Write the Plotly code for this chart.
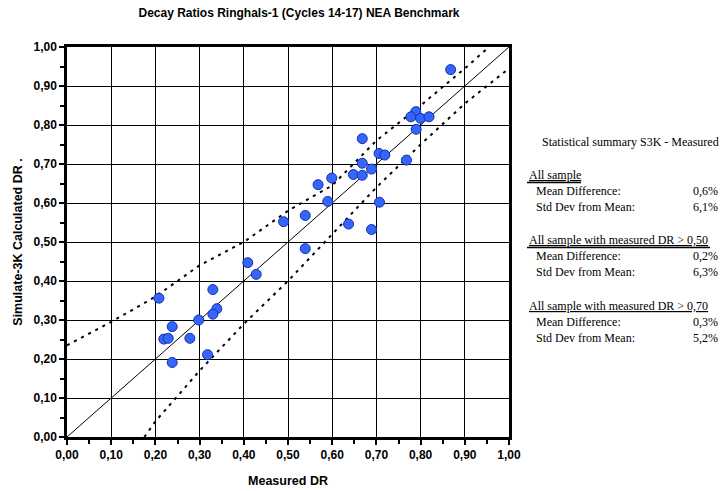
import plotly.graph_objects as go

# Measured vs calculated decay ratios
measured = [0.868, 0.789, 0.778, 0.800, 0.819, 0.790, 0.668, 0.706, 0.719, 0.768,
            0.668, 0.689, 0.648, 0.668, 0.599, 0.568, 0.590, 0.707, 0.539, 0.490,
            0.637, 0.689, 0.539, 0.409, 0.428, 0.208, 0.330, 0.339, 0.330, 0.298,
            0.238, 0.219, 0.229, 0.278, 0.318, 0.238]
calculated = [0.942, 0.834, 0.821, 0.817, 0.821, 0.789, 0.765, 0.727, 0.723, 0.710,
              0.702, 0.687, 0.673, 0.671, 0.664, 0.647, 0.604, 0.602, 0.568, 0.552,
              0.546, 0.532, 0.483, 0.447, 0.417, 0.356, 0.378, 0.329, 0.315, 0.300,
              0.283, 0.251, 0.253, 0.253, 0.211, 0.191]

# identity line
diag_x = [0.0, 1.0]
diag_y = [0.0, 1.0]

# dashed bands
upper_x = [0.0, 0.1, 0.2, 0.3, 0.4, 0.5, 0.6, 0.7, 0.8, 0.9, 0.955]
upper_y = [0.235, 0.295, 0.36, 0.44, 0.50, 0.58, 0.645, 0.76, 0.85, 0.945, 1.0]
lower_x = [0.175, 0.2, 0.3, 0.4, 0.5, 0.6, 0.7, 0.8, 0.9, 1.0]
lower_y = [0.0, 0.04, 0.17, 0.29, 0.40, 0.52, 0.64, 0.75, 0.855, 0.945]

title = "Decay Ratios Ringhals-1 (Cycles 14-17) NEA Benchmark"
x_title = "Measured DR"
y_title = "Simulate-3K Calculated DR ."

summary_title = "Statistical summary S3K - Measured"
group_headers = ["All sample",
                 "All sample with measured DR > 0,50",
                 "All sample with measured DR > 0,70"]
mean_diff = ["0,6%", "0,2%", "0,3%"]
std_dev = ["6,1%", "6,3%", "5,2%"]

W, H = 723, 491
ML, MR, MT, MB = 67, 214, 47, 54
PW, PH = W - ML - MR, H - MT - MB


def px(x):
    return (x - ML) / PW


def py(y):
    return (H - MB - y) / PH


fig = go.Figure()
fig.add_trace(go.Scatter(x=upper_x, y=upper_y, mode="lines",
                         line=dict(color="black", width=2, dash="3px,5px"),
                         hoverinfo="skip", showlegend=False))
fig.add_trace(go.Scatter(x=lower_x, y=lower_y, mode="lines",
                         line=dict(color="black", width=2, dash="3px,5px"),
                         hoverinfo="skip", showlegend=False))
fig.add_trace(go.Scatter(x=diag_x, y=diag_y, mode="lines",
                         line=dict(color="black", width=1),
                         hoverinfo="skip", showlegend=False))
fig.add_trace(go.Scatter(x=measured, y=calculated, mode="markers",
                         marker=dict(size=10, color="#3366FF",
                                     line=dict(color="#1a2fa0", width=1)),
                         showlegend=False))

serif = "Liberation Serif, Times New Roman, serif"
sans = "Liberation Sans, Arial, sans-serif"
fs = 12

ann = []
shapes = []
ann.append(dict(text=summary_title, x=px(540), y=py(142), xanchor="left"))
header_y = [175, 240, 306]
header_right = [581, 710, None]
for i, hy in enumerate(header_y):
    ann.append(dict(text="<u>" + group_headers[i] + "</u>", x=px(527), y=py(hy), xanchor="left"))
    ann.append(dict(text="Mean Difference:", x=px(534), y=py(hy + 16), xanchor="left"))
    ann.append(dict(text=mean_diff[i], x=px(720), y=py(hy + 16), xanchor="right"))
    ann.append(dict(text="Std Dev from Mean:", x=px(534), y=py(hy + 32), xanchor="left"))
    ann.append(dict(text=std_dev[i], x=px(720), y=py(hy + 32), xanchor="right"))
    if header_right[i] is not None:
        shapes.append(dict(type="line", xref="paper", yref="paper",
                           x0=px(527), x1=px(header_right[i]),
                           y0=py(hy + 7.5), y1=py(hy + 7.5),
                           line=dict(color="black", width=1.5)))
for a in ann:
    a.update(xref="paper", yref="paper", yanchor="middle", showarrow=False,
             font=dict(family=serif, size=fs, color="black"))

axis_common = dict(range=[0, 1], dtick=0.1, tickformat=".2f", automargin=False,
                   showgrid=True, gridcolor="black", gridwidth=1,
                   showline=True, linecolor="black", linewidth=2.5, mirror=True,
                   ticks="outside", ticklen=5, tickwidth=2, tickcolor="black",
                   minor=dict(dtick=0.05, ticks="outside", ticklen=4, tickwidth=2,
                              tickcolor="black", showgrid=False),
                   zeroline=False,
                   tickfont=dict(family=sans, size=12, color="black", weight="bold"))

fig.update_layout(
    width=W, height=H,
    margin=dict(l=ML, r=MR, t=MT, b=MB),
    paper_bgcolor="white", plot_bgcolor="white",
    separators=",.",
    title=dict(text=title, x=299 / W, xref="container", xanchor="center",
               y=1 - 13 / H, yref="container", yanchor="middle",
               font=dict(family=sans, size=12, color="black", weight="bold")),
    xaxis=dict(axis_common,
               title=dict(text=x_title, standoff=16,
                          font=dict(family=sans, size=12.5, color="black", weight="bold"))),
    yaxis=dict(axis_common,
               title=dict(text=y_title, standoff=9,
                          font=dict(family=sans, size=12.5, color="black", weight="bold"))),
    annotations=ann,
    shapes=shapes,
    showlegend=False,
)

fig.write_html("out.html")
